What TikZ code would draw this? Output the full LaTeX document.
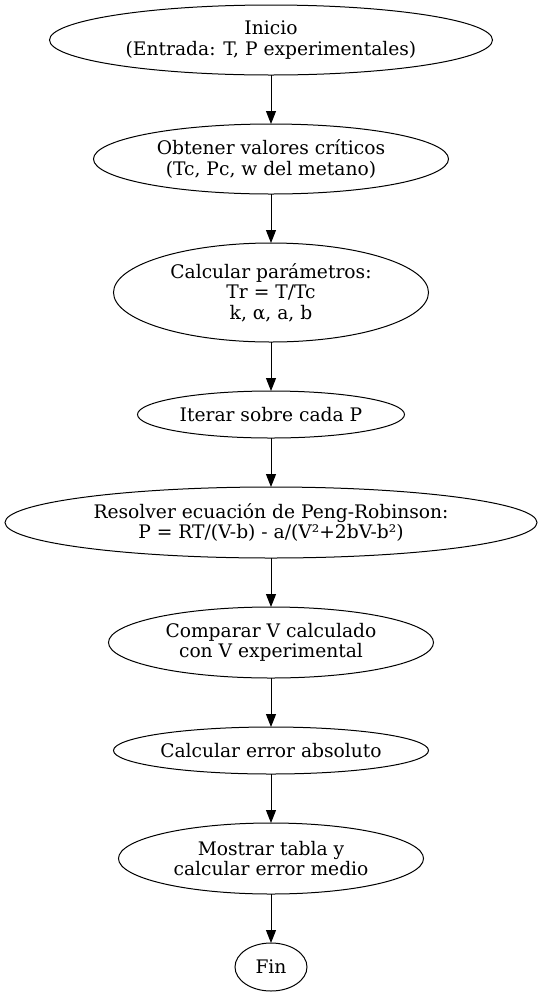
\documentclass[tikz,border=0pt]{standalone}
\usepackage{fontspec}
\setmainfont{DejaVu Serif}
\usepackage{tikz}
\usetikzlibrary{positioning}
\usetikzlibrary{shapes.geometric,chains,arrows.meta}

\begin{document}
\begin{tikzpicture}[x=0.75pt,y=0.75pt, stage/.style={ellipse, draw,
    inner sep=0pt, outer sep=0pt, align=center,
    font=\fontsize{14}{15.5}\selectfont, on chain},
    >={Triangle[length=9.75pt,width=7.5pt]}, line width=0.75pt,
    start chain=going below, node distance=36.75pt]

  \useasboundingbox (0,0) rectangle (542,-997);
  \node[stage,minimum width=332.25pt,minimum height=52.5pt] (inicio) at (271,-40)
    {Inicio\\(Entrada: T, P experimentales)};
  \node[stage,minimum width=266.25pt,minimum height=52.5pt] (criticos)
    {Obtener valores críticos\\(Tc, Pc, w del metano)};
  \node[stage,minimum width=236.25pt,minimum height=74.25pt] (param)
    {Calcular parámetros:\\Tr = T/Tc\\k, α, a, b};
  \node[stage,minimum width=200.25pt,minimum height=35.25pt] (iterar)
    {Iterar sobre cada P};
  \node[stage,minimum width=399pt,minimum height=53.25pt] (resolver)
    {Resolver ecuación de Peng-Robinson:\\P = RT/(V-b) - a/(V²+2bV-b²)};
  \node[stage,minimum width=243.75pt,minimum height=53.25pt] (comparar)
    {Comparar V calculado\\con V experimental};
  \node[stage,minimum width=236.25pt,minimum height=35.25pt] (error)
    {Calcular error absoluto};
  \node[stage,minimum width=228.75pt,minimum height=53.25pt] (tabla)
    {Mostrar tabla y\\calcular error medio};
  \node[stage,minimum width=54pt,minimum height=36pt] (fin) {Fin};
  %\draw (tabla) -- (fin);
  \draw[->] (inicio) -- (criticos);
  \draw[->] (criticos) -- (param);
  \draw[->] (param) -- (iterar);
  \draw[->] (iterar) -- (resolver);
  \draw[->] (resolver) -- (comparar);
  \draw[->] (comparar) -- (error);
  \draw[->] (error) -- (tabla);
  \draw[->] (tabla) -- (fin);
\end{tikzpicture}
\end{document}
